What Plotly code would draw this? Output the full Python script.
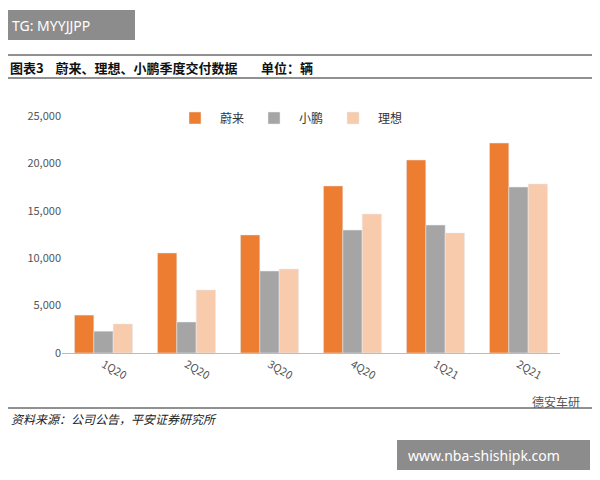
import plotly.graph_objects as go

quarters = ["1Q20", "2Q20", "3Q20", "4Q20", "1Q21", "2Q21"]
nio = [4000, 10550, 12450, 17620, 20360, 22150]
xpeng = [2300, 3270, 8650, 12970, 13500, 17510]
li = [3060, 6650, 8860, 14660, 12660, 17830]

fig = go.Figure()
fig.add_bar(x=quarters, y=nio, name="蔚来", marker_color="#ED7D31")
fig.add_bar(x=quarters, y=xpeng, name="小鹏", marker_color="#A5A5A5")
fig.add_bar(x=quarters, y=li, name="理想", marker_color="#F8CBAD")

W, H = 600, 480
O = 8  # page body offset
L, R, T, B = 62 - O, 40 + O, 116 - O, 127 + O

fig.update_layout(
    width=W, height=H, paper_bgcolor="white", plot_bgcolor="white",
    margin=dict(l=L, r=R, t=T, b=B),
    barmode="group", bargap=0.3, bargroupgap=0.0,
    font=dict(family="Noto Sans CJK SC", size=11, color="#333"),
    xaxis=dict(tickangle=30, showline=True, linecolor="#bbb", ticks="",
               tickfont=dict(size=11, color="#555")),
    yaxis=dict(range=[0, 25000], dtick=5000, tickformat=",", showgrid=False,
               showline=False, tickfont=dict(size=11, color="#555")),
)
pw, ph = W - L - R, H - T - B
def fx(x): return (x - O - L) / pw
def fy(y): return (H - B - (y - O)) / ph

fig.update_layout(legend=dict(orientation="h", x=fx(170), y=fy(118), xanchor="left", yanchor="middle",
                              font=dict(size=12), bgcolor="rgba(0,0,0,0)", traceorder="normal",
                              itemwidth=40))

shapes = []
for yy in [55, 78, 408]:
    shapes.append(dict(type="line", xref="paper", yref="paper", x0=fx(5), x1=fx(595),
                       y0=fy(yy), y1=fy(yy), line=dict(color="#222", width=1)))
shapes.append(dict(type="rect", xref="paper", yref="paper", x0=fx(0), x1=fx(135),
                   y0=fy(10), y1=fy(40), fillcolor="#8c8c8c", line=dict(width=0)))
shapes.append(dict(type="rect", xref="paper", yref="paper", x0=fx(397), x1=fx(590),
                   y0=fy(440), y1=fy(470), fillcolor="#8c8c8c", line=dict(width=0)))
fig.update_layout(shapes=shapes)

ann = [
    dict(text="TG: MYYJJPP", x=fx(10), y=fy(25), font=dict(size=14, color="white", family="Noto Sans")),
    dict(text="<b>图表3    蔚来、理想、小鹏季度交付数据        单位：辆</b>", x=fx(8), y=fy(67),
         font=dict(size=13, color="#111")),
    dict(text="<i>资料来源：公司公告，平安证券研究所</i>", x=fx(9), y=fy(418),
         font=dict(size=12, color="#222")),
    dict(text="德安车研", x=fx(530), y=fy(401), font=dict(size=12, color="#555")),
    dict(text="www.nba-shishipk.com", x=fx(406), y=fy(455), font=dict(size=14, color="white", family="Noto Sans")),
]
for a in ann:
    a.update(xref="paper", yref="paper", xanchor="left", yanchor="middle", showarrow=False)
fig.update_layout(annotations=ann)

fig.write_html("out.html")
